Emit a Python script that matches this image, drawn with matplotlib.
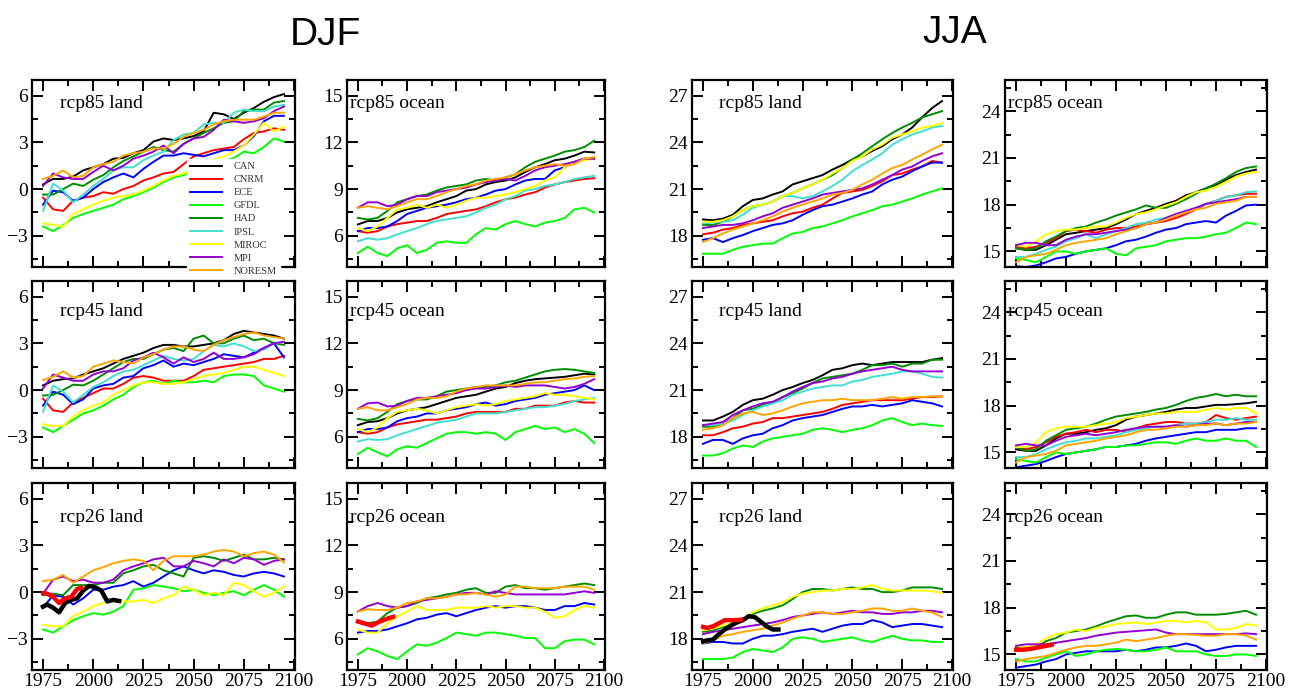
import matplotlib
matplotlib.use("Agg")
import matplotlib.pyplot as plt
from matplotlib.ticker import MultipleLocator

# 5-yearly sampling of the running means
years = list(range(1975, 2100, 5))

models = ["CAN", "CNRM", "ECE", "GFDL", "HAD", "IPSL", "MIROC", "MPI", "NORESM"]
colors = {"CAN": "#000000", "CNRM": "#ff0000", "ECE": "#0000ff", "GFDL": "#00ff00",
          "HAD": "#008b00", "IPSL": "#40e0d0", "MIROC": "#ffff00", "MPI": "#9400d3",
          "NORESM": "#ffa500"}

# ---------------- DJF land ----------------
djf_land_rcp85 = {
    "CAN":    [0.3, 0.65, 0.65, 0.8, 1.2, 1.4, 1.6, 1.95, 2.0, 2.3, 2.5, 3.05, 3.25, 3.15, 3.25, 3.4, 3.7, 4.9, 4.8, 4.5, 4.9, 5.2, 5.6, 5.9, 6.1],
    "CNRM":   [-0.55, -1.3, -1.4, -0.75, -0.55, -0.45, -0.2, -0.3, 0.0, 0.2, 0.55, 0.75, 1.0, 1.1, 1.6, 2.1, 2.3, 2.5, 2.6, 2.7, 3.2, 3.6, 3.7, 3.9, 3.8],
    "ECE":    [-1.0, -0.1, -0.2, -0.75, -0.55, 0.0, 0.45, 0.75, 1.0, 0.75, 1.3, 1.75, 2.15, 2.15, 2.3, 2.2, 2.1, 2.3, 2.5, 2.5, 2.8, 3.4, 4.35, 4.7, 4.7],
    "GFDL":   [-2.4, -2.7, -2.3, -1.85, -1.6, -1.4, -1.2, -1.0, -0.65, -0.45, -0.2, 0.1, 0.45, 0.75, 0.9, 1.2, 1.4, 1.6, 1.8, 2.0, 2.4, 2.3, 2.7, 3.25, 3.05],
    "HAD":    [-0.35, -0.35, 0.0, 0.35, 0.2, 0.6, 0.9, 1.4, 1.8, 2.1, 2.4, 2.7, 2.5, 2.4, 2.9, 3.25, 3.6, 3.9, 4.25, 4.35, 5.0, 5.1, 5.1, 5.55, 5.65],
    "IPSL":   [-1.4, 0.35, -0.1, -0.85, -0.35, 0.2, 0.65, 1.2, 1.4, 1.4, 1.85, 2.15, 2.4, 3.15, 3.5, 3.6, 4.15, 4.25, 4.25, 4.9, 5.1, 5.0, 5.0, 5.3, 5.4],
    "MIROC":  [-2.2, -2.3, -2.4, -1.6, -1.3, -1.0, -0.75, -0.55, -0.45, -0.35, -0.1, 0.2, 0.55, 0.85, 1.0, 1.3, 1.6, 1.9, 2.1, 2.4, 2.8, 3.5, 4.25, 3.7, 4.0],
    "MPI":    [0.2, 1.0, 0.75, 0.65, 0.65, 1.1, 1.5, 1.2, 1.5, 1.95, 2.15, 2.4, 2.8, 2.3, 2.9, 3.25, 3.35, 3.8, 4.45, 4.35, 4.25, 4.35, 4.55, 5.0, 5.3],
    "NORESM": [0.65, 0.85, 1.2, 0.75, 0.85, 1.4, 1.6, 1.75, 2.15, 2.3, 2.4, 2.6, 2.6, 2.9, 3.35, 3.6, 3.8, 4.15, 4.35, 4.45, 4.45, 4.45, 4.65, 4.9, 4.9],
}
djf_land_rcp45 = {
    "CAN":    [0.3, 0.6, 0.7, 0.75, 1.0, 1.2, 1.4, 1.7, 2.0, 2.2, 2.4, 2.7, 2.9, 2.9, 2.8, 2.8, 2.9, 3.0, 3.2, 3.6, 3.8, 3.7, 3.6, 3.5, 3.3],
    "CNRM":   [-0.55, -1.3, -1.4, -0.8, -0.5, -0.2, 0.1, 0.1, 0.4, 0.8, 0.9, 0.8, 0.6, 0.6, 0.6, 0.9, 1.3, 1.4, 1.5, 1.6, 1.7, 1.8, 2.0, 2.0, 2.2],
    "ECE":    [-1.0, -0.1, -0.3, -0.9, -0.6, 0.1, 0.3, 0.4, 0.8, 0.9, 1.4, 1.6, 1.9, 1.5, 1.7, 1.6, 1.8, 2.0, 2.3, 2.2, 2.1, 2.4, 2.7, 3.0, 2.1],
    "GFDL":   [-2.4, -2.7, -2.3, -1.9, -1.5, -1.3, -1.0, -0.6, -0.3, 0.2, 0.5, 0.6, 0.4, 0.6, 0.5, 0.5, 0.6, 0.5, 0.9, 1.0, 1.0, 0.9, 0.3, 0.1, -0.1],
    "HAD":    [-0.35, -0.3, 0.0, 0.35, 0.3, 0.6, 1.0, 1.4, 1.8, 2.0, 2.0, 2.3, 2.6, 2.7, 2.5, 3.3, 3.5, 3.0, 3.0, 3.3, 3.5, 3.2, 3.3, 3.0, 2.9],
    "IPSL":   [-1.4, 0.3, -0.1, -0.8, -0.3, 0.2, 0.5, 0.9, 1.2, 1.3, 1.6, 1.9, 2.2, 2.0, 1.9, 2.0, 2.5, 2.9, 2.8, 3.0, 2.8, 2.5, 2.6, 3.0, 3.1],
    "MIROC":  [-2.2, -2.3, -2.3, -1.7, -1.3, -1.0, -0.8, -0.3, 0.0, 0.3, 0.5, 0.5, 0.4, 0.4, 0.5, 0.7, 0.9, 1.0, 1.1, 1.3, 1.5, 1.5, 1.3, 1.1, 0.9],
    "MPI":    [0.1, 1.0, 0.8, 0.6, 0.6, 1.0, 1.2, 1.2, 1.4, 1.9, 2.1, 2.4, 2.1, 1.7, 2.1, 1.8, 2.0, 2.4, 2.0, 2.0, 2.1, 2.3, 2.7, 3.0, 3.1],
    "NORESM": [0.65, 0.85, 1.2, 0.8, 0.9, 1.5, 1.7, 1.9, 1.8, 1.7, 2.1, 2.3, 2.6, 2.8, 2.8, 2.6, 2.5, 2.9, 3.2, 3.4, 3.6, 3.7, 3.5, 3.4, 3.3],
}
djf_land_rcp26 = {
    "ECE":    [-1.0, -0.2, -0.3, -0.8, -0.4, 0.15, 0.15, 0.35, 0.45, 0.7, 0.35, 0.6, 1.0, 1.4, 1.65, 1.4, 1.2, 1.4, 1.3, 1.1, 1.0, 1.2, 1.3, 1.2, 1.0],
    "GFDL":   [-2.4, -2.6, -2.2, -1.8, -1.55, -1.35, -1.45, -1.25, -0.9, 0.15, 0.25, 0.45, 0.35, 0.25, 0.05, 0.15, -0.05, -0.2, -0.05, 0.05, -0.2, 0.15, 0.45, 0.15, -0.3],
    "HAD":    [-0.2, -0.1, -0.2, 0.45, 0.45, 0.45, 0.6, 0.6, 1.2, 1.4, 1.65, 1.75, 1.4, 1.2, 1.0, 2.2, 2.3, 2.2, 2.0, 2.2, 2.4, 2.1, 2.1, 2.2, 2.1],
    "MIROC":  [-2.1, -2.2, -2.2, -1.55, -1.25, -0.9, -0.7, -0.6, -0.6, -0.6, -0.5, -0.7, -0.4, -0.2, 0.35, 0.15, -0.2, -0.05, -0.2, 0.6, 0.45, 0.05, -0.3, -0.05, 0.35],
    "MPI":    [-0.1, 0.8, 1.0, 0.7, 0.8, 0.6, 0.6, 0.8, 1.4, 1.65, 1.85, 2.1, 2.2, 1.65, 1.65, 2.0, 1.85, 1.65, 2.1, 1.85, 2.2, 2.1, 1.75, 2.0, 2.1],
    "NORESM": [0.7, 0.8, 1.1, 0.6, 1.0, 1.4, 1.6, 1.85, 2.0, 2.1, 2.0, 1.4, 2.0, 2.3, 2.3, 2.3, 2.4, 2.6, 2.7, 2.6, 2.3, 2.5, 2.6, 2.4, 1.9],
}
obs_djf_land_years = [1974, 1977, 1980, 1983, 1986, 1989, 1992, 1995, 1998, 2001, 2004, 2007, 2010, 2014]
obs_djf_land_black = [-1.0, -0.8, -1.0, -1.3, -0.7, -0.5, -0.4, 0.1, 0.4, 0.3, 0.1, -0.6, -0.5, -0.6]
obs_djf_land_red_years = [1974, 1977, 1980, 1983, 1986, 1989, 1992, 1995]
obs_djf_land_red = [-0.05, -0.1, -0.3, -0.7, -0.4, -0.3, 0.2, 0.3]

# ---------------- DJF ocean ----------------
djf_ocean_rcp85 = {
    "CAN":    [6.73, 6.95, 6.95, 7.15, 7.5, 7.7, 7.8, 7.9, 8.15, 8.35, 8.55, 8.9, 9.0, 9.3, 9.45, 9.55, 9.75, 10.1, 10.4, 10.6, 10.85, 10.95, 11.15, 11.4, 11.35],
    "CNRM":   [6.3, 6.2, 6.3, 6.6, 6.75, 6.85, 6.95, 6.95, 7.15, 7.4, 7.5, 7.6, 7.7, 7.9, 8.15, 8.35, 8.45, 8.65, 8.8, 9.1, 9.3, 9.45, 9.55, 9.65, 9.7],
    "ECE":    [6.3, 6.5, 6.5, 6.6, 6.95, 7.4, 7.6, 7.8, 7.9, 8.0, 8.15, 8.35, 8.45, 8.65, 8.9, 9.0, 9.3, 9.55, 9.65, 9.65, 10.2, 10.4, 10.75, 10.95, 10.95],
    "GFDL":   [4.9, 5.3, 4.9, 4.7, 5.2, 5.4, 4.9, 5.1, 5.55, 5.65, 5.55, 5.55, 6.1, 6.5, 6.4, 6.75, 6.95, 6.75, 6.6, 6.85, 6.95, 7.15, 7.7, 7.8, 7.5],
    "HAD":    [7.15, 7.05, 7.15, 7.6, 8.15, 8.35, 8.55, 8.65, 8.9, 9.1, 9.2, 9.3, 9.55, 9.65, 9.55, 9.75, 9.95, 10.4, 10.75, 10.95, 11.15, 11.4, 11.5, 11.7, 12.1],
    "IPSL":   [5.65, 5.85, 5.75, 5.85, 6.1, 6.3, 6.5, 6.75, 6.95, 7.05, 7.15, 7.25, 7.5, 7.8, 8.0, 8.35, 8.55, 8.9, 9.0, 9.2, 9.3, 9.45, 9.65, 9.75, 9.85],
    "MIROC":  [6.5, 6.3, 6.6, 7.15, 7.7, 7.8, 8.0, 7.8, 8.0, 7.8, 8.0, 8.25, 8.45, 8.45, 8.55, 8.65, 8.8, 9.0, 9.2, 9.55, 9.75, 10.4, 10.75, 10.85, 10.95],
    "MPI":    [7.8, 8.15, 8.15, 7.9, 8.0, 8.35, 8.55, 8.55, 8.8, 8.9, 9.0, 9.1, 9.3, 9.45, 9.55, 9.65, 9.55, 9.85, 10.2, 10.4, 10.5, 10.6, 10.75, 10.95, 10.95],
    "NORESM": [7.8, 7.9, 7.8, 7.7, 7.9, 8.15, 8.35, 8.35, 8.55, 8.8, 9.0, 9.2, 9.3, 9.55, 9.65, 9.75, 9.95, 10.2, 10.4, 10.5, 10.6, 10.5, 10.6, 10.95, 11.05],
}
djf_ocean_rcp45 = {
    "CAN":    [6.75, 6.95, 7.0, 7.2, 7.5, 7.7, 7.8, 7.9, 8.1, 8.3, 8.5, 8.6, 8.7, 8.9, 9.1, 9.2, 9.45, 9.6, 9.7, 9.75, 9.8, 9.85, 9.95, 10.05, 10.0],
    "CNRM":   [6.3, 6.2, 6.3, 6.6, 6.8, 6.9, 7.0, 7.1, 7.1, 7.2, 7.3, 7.5, 7.6, 7.6, 7.6, 7.6, 7.8, 7.8, 8.0, 8.0, 8.0, 8.2, 8.3, 8.2, 8.2],
    "ECE":    [6.3, 6.5, 6.5, 6.6, 7.0, 7.2, 7.3, 7.5, 7.5, 7.7, 7.8, 7.9, 8.1, 8.2, 8.0, 8.1, 8.3, 8.4, 8.5, 8.7, 8.8, 8.9, 9.0, 9.3, 9.0],
    "GFDL":   [4.9, 5.3, 5.0, 4.75, 5.2, 5.4, 5.3, 5.6, 5.9, 6.2, 6.3, 6.3, 6.2, 6.3, 6.2, 5.8, 6.3, 6.5, 6.7, 6.5, 6.6, 6.3, 6.5, 6.2, 5.6],
    "HAD":    [7.15, 7.05, 7.2, 7.6, 8.1, 8.3, 8.4, 8.4, 8.6, 8.9, 9.0, 9.1, 9.2, 9.2, 9.3, 9.5, 9.6, 9.8, 10.0, 10.2, 10.3, 10.35, 10.3, 10.2, 10.1],
    "IPSL":   [5.7, 5.85, 5.8, 5.85, 6.1, 6.3, 6.5, 6.7, 6.9, 7.0, 7.1, 7.3, 7.5, 7.5, 7.5, 7.6, 7.7, 7.8, 7.9, 7.9, 8.0, 8.1, 8.3, 8.4, 8.5],
    "MIROC":  [6.5, 6.3, 6.6, 7.2, 7.6, 7.7, 7.8, 7.7, 7.5, 7.7, 7.9, 8.0, 8.1, 8.0, 8.1, 8.3, 8.4, 8.5, 8.6, 8.8, 8.7, 8.7, 8.6, 8.5, 8.4],
    "MPI":    [7.8, 8.15, 8.2, 7.95, 8.0, 8.3, 8.5, 8.5, 8.6, 8.7, 8.8, 9.0, 9.1, 9.1, 9.2, 9.3, 9.2, 9.3, 9.3, 9.3, 9.2, 9.1, 9.2, 9.4, 9.7],
    "NORESM": [7.8, 7.9, 7.7, 7.7, 7.9, 8.1, 8.4, 8.5, 8.5, 8.6, 8.9, 9.1, 9.2, 9.3, 9.3, 9.3, 9.3, 9.4, 9.5, 9.5, 9.6, 9.7, 9.75, 9.85, 9.9],
}
djf_ocean_rcp26 = {
    "ECE":    [6.4, 6.5, 6.5, 6.6, 6.8, 7.0, 7.25, 7.35, 7.55, 7.65, 7.45, 7.65, 7.85, 8.0, 8.1, 8.0, 8.1, 8.1, 8.0, 7.85, 7.85, 8.1, 8.1, 8.3, 8.2],
    "GFDL":   [5.0, 5.4, 5.2, 4.9, 4.7, 5.2, 5.65, 5.55, 5.75, 6.05, 6.4, 6.3, 6.2, 6.4, 6.4, 6.3, 6.2, 6.05, 6.05, 5.4, 5.4, 5.85, 5.95, 5.95, 5.65],
    "HAD":    [7.1, 7.0, 7.1, 7.65, 8.0, 8.1, 8.3, 8.6, 8.7, 8.85, 8.95, 9.15, 9.25, 8.95, 8.95, 9.35, 9.45, 9.25, 9.25, 9.15, 9.25, 9.35, 9.45, 9.55, 9.45],
    "MIROC":  [6.6, 6.4, 6.4, 7.0, 7.45, 7.75, 8.1, 7.85, 7.85, 7.85, 8.0, 8.0, 8.0, 8.1, 8.0, 8.1, 8.1, 8.0, 8.0, 7.75, 7.35, 7.45, 7.85, 8.1, 8.0],
    "MPI":    [7.75, 8.1, 8.3, 8.1, 8.0, 8.1, 8.4, 8.5, 8.6, 8.7, 8.85, 8.95, 8.95, 8.85, 9.05, 8.95, 8.85, 8.85, 8.85, 8.85, 8.85, 8.85, 8.95, 9.05, 8.95],
    "NORESM": [7.75, 7.9, 7.85, 7.85, 8.0, 8.3, 8.4, 8.6, 8.6, 8.7, 8.85, 8.85, 8.95, 8.85, 8.7, 8.85, 9.35, 9.35, 9.25, 9.25, 9.25, 9.35, 9.35, 9.35, 9.15],
}
obs_djf_ocean_red_years = [1974, 1978, 1982, 1986, 1990, 1994]
obs_djf_ocean_red = [7.15, 7.0, 6.85, 7.1, 7.3, 7.45]

# ---------------- JJA land ----------------
jja_land_rcp85 = {
    "CAN":    [19.05, 19.0, 19.1, 19.35, 19.9, 20.3, 20.4, 20.65, 20.85, 21.3, 21.5, 21.7, 21.9, 22.25, 22.55, 22.9, 23.1, 23.45, 23.75, 24.2, 24.5, 24.95, 25.6, 26.2, 26.65],
    "CNRM":   [18.1, 18.2, 18.4, 18.5, 18.7, 18.8, 18.9, 19.0, 19.25, 19.45, 19.55, 19.8, 20.0, 20.4, 20.75, 20.85, 20.95, 21.2, 21.5, 21.9, 22.0, 22.25, 22.45, 22.8, 22.7],
    "ECE":    [17.75, 17.85, 17.6, 17.85, 18.05, 18.3, 18.5, 18.7, 18.8, 19.0, 19.35, 19.65, 19.9, 20.0, 20.2, 20.4, 20.65, 20.85, 21.3, 21.6, 21.8, 22.15, 22.45, 22.7, 22.7],
    "GFDL":   [16.85, 16.85, 16.85, 17.1, 17.3, 17.4, 17.5, 17.5, 17.85, 18.15, 18.25, 18.5, 18.6, 18.8, 19.0, 19.25, 19.45, 19.65, 19.9, 20.0, 20.2, 20.4, 20.65, 20.85, 21.05],
    "HAD":    [18.7, 18.7, 18.9, 19.25, 19.65, 19.9, 20.0, 20.2, 20.55, 20.75, 21.05, 21.3, 21.6, 21.9, 22.35, 22.9, 23.3, 23.75, 24.2, 24.6, 24.95, 25.25, 25.6, 25.8, 26.0],
    "IPSL":   [18.8, 18.85, 18.9, 19.0, 19.35, 19.8, 20.0, 20.2, 20.55, 20.55, 20.4, 20.55, 20.85, 21.2, 21.6, 22.15, 22.55, 22.9, 23.3, 23.85, 24.2, 24.5, 24.7, 24.95, 25.05],
    "MIROC":  [18.9, 18.9, 19.0, 19.25, 19.65, 19.9, 20.0, 20.2, 20.55, 20.75, 21.05, 21.3, 21.6, 22.0, 22.35, 22.8, 23.1, 23.55, 23.85, 24.3, 24.5, 24.7, 24.95, 25.05, 25.25],
    "MPI":    [18.5, 18.6, 18.7, 18.7, 18.8, 19.0, 19.25, 19.45, 19.8, 20.0, 20.2, 20.4, 20.65, 20.75, 20.85, 20.95, 21.05, 21.3, 21.6, 21.9, 22.25, 22.45, 22.8, 23.1, 23.3],
    "NORESM": [17.6, 17.85, 18.15, 18.4, 18.6, 18.8, 19.0, 19.25, 19.55, 19.8, 20.0, 20.2, 20.4, 20.65, 20.75, 20.95, 21.3, 21.6, 22.0, 22.35, 22.55, 22.9, 23.2, 23.55, 23.85],
}
jja_land_rcp45 = {
    "CAN":    [19.05, 19.05, 19.3, 19.6, 20.05, 20.35, 20.45, 20.7, 21.0, 21.2, 21.45, 21.65, 21.95, 22.3, 22.4, 22.6, 22.7, 22.6, 22.7, 22.8, 22.8, 22.8, 22.8, 22.95, 23.05],
    "CNRM":   [18.1, 18.1, 18.3, 18.55, 18.65, 18.85, 18.95, 19.2, 19.2, 19.3, 19.4, 19.5, 19.6, 19.8, 20.05, 20.15, 20.25, 20.35, 20.35, 20.35, 20.35, 20.45, 20.55, 20.55, 20.6],
    "ECE":    [17.55, 17.8, 17.8, 17.55, 17.9, 18.1, 18.2, 18.55, 18.75, 19.05, 19.2, 19.3, 19.4, 19.6, 19.8, 19.95, 19.95, 20.05, 19.95, 20.05, 20.15, 20.35, 20.25, 20.15, 19.95],
    "GFDL":   [16.8, 16.8, 16.95, 17.25, 17.45, 17.35, 17.7, 17.9, 18.0, 18.1, 18.2, 18.45, 18.55, 18.45, 18.3, 18.45, 18.55, 18.75, 19.05, 19.2, 18.95, 18.75, 18.85, 18.75, 18.7],
    "HAD":    [18.65, 18.65, 18.85, 19.2, 19.7, 19.8, 20.05, 20.15, 20.55, 20.8, 21.1, 21.45, 21.75, 21.85, 21.95, 22.05, 22.3, 22.6, 22.6, 22.7, 22.5, 22.7, 22.7, 22.95, 22.95],
    "IPSL":   [18.75, 18.75, 18.85, 19.05, 19.4, 19.7, 19.95, 20.15, 20.35, 20.7, 20.9, 21.1, 21.2, 21.3, 21.3, 21.55, 21.65, 21.85, 21.95, 22.05, 22.2, 22.2, 22.05, 21.85, 21.8],
    "MPI":    [18.75, 18.85, 18.95, 19.4, 19.7, 19.95, 20.15, 20.25, 20.55, 20.9, 21.2, 21.45, 21.55, 21.75, 21.85, 22.05, 22.2, 22.3, 22.4, 22.5, 22.3, 22.2, 22.2, 22.2, 22.2],
    "NORESM": [18.45, 18.55, 18.75, 19.2, 19.5, 19.6, 19.4, 19.5, 19.7, 19.95, 20.15, 20.25, 20.35, 20.35, 20.45, 20.35, 20.35, 20.35, 20.45, 20.55, 20.45, 20.55, 20.55, 20.6, 20.6],
}
jja_land_rcp26 = {
    "ECE":    [17.7, 17.8, 17.8, 17.7, 17.7, 18.0, 18.2, 18.2, 18.3, 18.45, 18.55, 18.65, 18.45, 18.65, 18.85, 18.95, 18.95, 19.2, 19.05, 18.75, 18.85, 18.95, 18.95, 18.85, 18.75],
    "GFDL":   [16.7, 16.7, 16.7, 16.8, 17.15, 17.35, 17.25, 17.15, 17.45, 18.0, 18.1, 18.0, 17.8, 17.9, 18.0, 18.1, 17.9, 17.8, 18.0, 18.2, 18.0, 17.9, 17.9, 17.8, 17.8],
    "HAD":    [18.45, 18.55, 18.75, 18.95, 19.2, 19.6, 19.8, 19.95, 20.15, 20.55, 21.0, 21.2, 21.2, 21.1, 21.2, 21.3, 21.2, 21.2, 21.0, 21.0, 21.1, 21.3, 21.3, 21.3, 21.2],
    "MIROC":  [18.55, 18.65, 18.85, 19.05, 19.3, 19.7, 19.95, 20.15, 20.35, 20.7, 20.9, 21.0, 21.1, 21.1, 21.2, 21.2, 21.3, 21.45, 21.2, 21.1, 21.1, 21.1, 21.1, 21.05, 20.95],
    "MPI":    [18.3, 18.45, 18.55, 18.65, 18.75, 18.85, 18.95, 19.05, 19.2, 19.4, 19.5, 19.6, 19.7, 19.6, 19.7, 19.8, 19.7, 19.7, 19.6, 19.6, 19.7, 19.7, 19.8, 19.8, 19.7],
    "NORESM": [17.7, 17.9, 18.2, 18.3, 18.45, 18.55, 18.65, 18.85, 19.05, 19.3, 19.5, 19.7, 19.7, 19.6, 19.6, 19.7, 19.8, 19.95, 19.95, 19.8, 19.8, 19.95, 19.8, 19.7, 19.4],
}
obs_jja_land_years = [1974, 1977, 1980, 1983, 1986, 1989, 1992, 1995, 1998, 2001, 2004, 2007, 2010, 2014]
obs_jja_land_black = [17.8, 17.9, 17.95, 18.3, 18.6, 18.85, 19.05, 19.2, 19.45, 19.4, 19.1, 18.8, 18.6, 18.6]
obs_jja_land_red_years = [1974, 1977, 1980, 1983, 1986, 1989, 1992, 1995]
obs_jja_land_red = [18.8, 18.7, 18.8, 19.0, 19.2, 19.2, 19.2, 19.25]

# ---------------- JJA ocean ----------------
jja_ocean_rcp85 = {
    "CAN":    [15.2, 15.1, 15.1, 15.4, 15.75, 16.1, 16.2, 16.3, 16.4, 16.5, 16.75, 17.05, 17.4, 17.6, 17.8, 18.05, 18.25, 18.6, 18.8, 19.05, 19.25, 19.6, 19.9, 20.1, 20.25],
    "CNRM":   [15.3, 15.2, 15.3, 15.55, 15.85, 16.3, 16.4, 16.3, 16.2, 16.4, 16.5, 16.5, 16.6, 16.75, 16.85, 16.95, 17.15, 17.4, 17.7, 18.05, 18.25, 18.5, 18.6, 18.7, 18.7],
    "ECE":    [14.05, 14.0, 14.1, 14.3, 14.55, 14.65, 14.85, 15.0, 15.1, 15.2, 15.4, 15.65, 15.75, 15.95, 16.2, 16.4, 16.5, 16.75, 16.85, 16.95, 16.85, 17.3, 17.6, 17.95, 18.0],
    "GFDL":   [14.55, 14.45, 14.3, 14.65, 15.0, 15.0, 14.85, 15.0, 15.1, 15.2, 14.85, 14.75, 15.2, 15.3, 15.4, 15.65, 15.75, 15.85, 15.85, 15.95, 16.1, 16.2, 16.5, 16.85, 16.75],
    "HAD":    [15.2, 15.1, 15.2, 15.65, 15.95, 16.3, 16.5, 16.6, 16.85, 17.05, 17.3, 17.5, 17.7, 17.95, 17.8, 17.8, 18.05, 18.35, 18.7, 19.05, 19.35, 19.7, 20.1, 20.35, 20.45],
    "IPSL":   [14.65, 14.65, 14.85, 15.1, 15.3, 15.65, 15.85, 16.1, 15.85, 16.1, 16.3, 16.5, 16.75, 16.85, 17.05, 17.15, 17.4, 17.6, 17.8, 18.05, 18.25, 18.5, 18.6, 18.8, 18.85],
    "MIROC":  [15.4, 15.3, 15.65, 16.1, 16.3, 16.4, 16.4, 16.5, 16.6, 16.6, 16.85, 17.15, 17.4, 17.5, 17.7, 17.95, 18.15, 18.5, 18.8, 18.9, 19.15, 19.45, 19.8, 20.0, 20.1],
    "MPI":    [15.4, 15.55, 15.55, 15.4, 15.4, 15.75, 15.95, 16.1, 16.1, 16.2, 16.3, 16.4, 16.5, 16.75, 16.85, 17.15, 17.4, 17.6, 17.8, 18.05, 18.15, 18.25, 18.35, 18.5, 18.5],
    "NORESM": [14.3, 14.65, 14.75, 14.85, 15.1, 15.4, 15.55, 15.65, 15.75, 15.85, 16.1, 16.3, 16.5, 16.75, 16.85, 17.05, 17.3, 17.5, 17.7, 17.8, 18.05, 18.15, 18.25, 18.5, 18.5],
}
jja_ocean_rcp45 = {
    "CAN":    [15.2, 15.1, 15.1, 15.45, 15.9, 16.2, 16.2, 16.3, 16.45, 16.55, 16.75, 17.1, 17.3, 17.4, 17.5, 17.6, 17.75, 17.85, 17.85, 17.95, 18.05, 18.05, 18.1, 18.15, 18.25],
    "CNRM":   [15.35, 15.2, 15.35, 15.65, 16.0, 16.2, 16.3, 16.45, 16.3, 16.45, 16.45, 16.3, 16.55, 16.75, 16.85, 16.95, 16.95, 16.85, 16.85, 16.95, 17.4, 17.2, 17.1, 17.2, 17.3],
    "ECE":    [14.05, 14.15, 14.25, 14.45, 14.7, 14.9, 15.0, 15.1, 15.2, 15.35, 15.35, 15.45, 15.55, 15.75, 15.9, 16.0, 16.1, 16.2, 16.3, 16.3, 16.45, 16.45, 16.45, 16.55, 16.55],
    "GFDL":   [14.55, 14.45, 14.35, 14.7, 15.0, 14.9, 15.0, 15.1, 15.2, 15.35, 15.35, 15.45, 15.45, 15.55, 15.65, 15.65, 15.55, 15.75, 15.9, 15.75, 15.75, 15.9, 15.75, 15.75, 15.35],
    "HAD":    [15.35, 15.1, 15.2, 15.75, 16.1, 16.45, 16.55, 16.65, 16.85, 17.1, 17.3, 17.4, 17.5, 17.6, 17.75, 17.85, 18.05, 18.3, 18.5, 18.6, 18.75, 18.6, 18.7, 18.6, 18.6],
    "IPSL":   [14.7, 14.7, 14.9, 15.2, 15.45, 15.65, 15.75, 15.9, 15.9, 16.0, 16.1, 16.3, 16.45, 16.55, 16.65, 16.65, 16.75, 16.85, 16.85, 16.95, 17.1, 17.1, 17.2, 17.1, 17.1],
    "MIROC":  [15.35, 15.35, 15.65, 16.3, 16.55, 16.65, 16.65, 16.65, 16.75, 16.85, 16.95, 17.2, 17.3, 17.4, 17.5, 17.5, 17.6, 17.6, 17.6, 17.75, 17.85, 17.75, 17.85, 17.85, 17.5],
    "MPI":    [15.45, 15.55, 15.45, 15.45, 15.75, 16.0, 16.1, 16.2, 16.1, 16.2, 16.3, 16.45, 16.55, 16.65, 16.65, 16.65, 16.75, 16.65, 16.75, 16.85, 16.85, 16.75, 16.85, 16.95, 16.95],
    "NORESM": [14.35, 14.7, 14.8, 14.9, 15.1, 15.45, 15.55, 15.65, 15.75, 15.9, 16.0, 16.1, 16.3, 16.45, 16.45, 16.55, 16.65, 16.65, 16.75, 16.75, 16.85, 16.75, 16.85, 16.85, 16.95],
}
jja_ocean_rcp26 = {
    "ECE":    [14.15, 14.25, 14.35, 14.55, 14.7, 15.0, 15.1, 15.2, 15.2, 15.2, 15.2, 15.3, 15.2, 15.3, 15.45, 15.45, 15.55, 15.7, 15.55, 15.2, 15.3, 15.45, 15.55, 15.55, 15.55],
    "GFDL":   [14.7, 14.55, 14.55, 14.8, 15.0, 15.2, 14.9, 15.0, 15.2, 15.3, 15.35, 15.3, 15.2, 15.2, 15.3, 15.45, 15.2, 15.2, 15.2, 15.0, 14.9, 14.9, 15.0, 15.0, 14.9],
    "HAD":    [15.45, 15.3, 15.45, 15.85, 16.05, 16.4, 16.5, 16.6, 16.8, 17.05, 17.25, 17.45, 17.5, 17.35, 17.35, 17.55, 17.7, 17.7, 17.55, 17.55, 17.55, 17.6, 17.7, 17.8, 17.55],
    "MIROC":  [15.55, 15.45, 15.65, 16.05, 16.3, 16.4, 16.6, 16.5, 16.7, 16.8, 16.95, 17.0, 17.05, 16.95, 17.05, 17.15, 17.15, 17.05, 17.15, 17.05, 16.6, 16.6, 16.7, 16.95, 16.85],
    "MPI":    [15.55, 15.65, 15.65, 15.65, 15.75, 15.85, 15.95, 16.05, 16.2, 16.3, 16.4, 16.45, 16.5, 16.55, 16.6, 16.4, 16.3, 16.3, 16.3, 16.3, 16.3, 16.3, 16.3, 16.35, 16.3],
    "NORESM": [14.55, 14.7, 14.8, 14.9, 15.1, 15.3, 15.45, 15.55, 15.55, 15.65, 15.75, 15.95, 15.85, 15.95, 16.05, 16.2, 16.3, 16.3, 16.25, 16.2, 16.2, 16.3, 16.3, 16.2, 15.95],
}
obs_jja_ocean_red_years = [1974, 1978, 1982, 1986, 1990, 1994]
obs_jja_ocean_red = [15.3, 15.3, 15.35, 15.45, 15.55, 15.65]

season_titles = ["DJF", "JJA"]
panel_labels = ["rcp85", "rcp45", "rcp26"]
x_ticks = [1975, 2000, 2025, 2050, 2075, 2100]

# columns: (data per row, ylim, major y ticks, land/ocean)
columns = [
    ([djf_land_rcp85, djf_land_rcp45, djf_land_rcp26], (-5, 7), [-3, 0, 3, 6], "land"),
    ([djf_ocean_rcp85, djf_ocean_rcp45, djf_ocean_rcp26], (4, 16), [6, 9, 12, 15], "ocean"),
    ([jja_land_rcp85, jja_land_rcp45, jja_land_rcp26], (16, 28), [18, 21, 24, 27], "land"),
    ([jja_ocean_rcp85, jja_ocean_rcp45, jja_ocean_rcp26], (14, 26), [15, 18, 21, 24], "ocean"),
]
obs = {
    0: [(obs_djf_land_years, obs_djf_land_black, "black"), (obs_djf_land_red_years, obs_djf_land_red, "red")],
    1: [(obs_djf_ocean_red_years, obs_djf_ocean_red, "red")],
    2: [(obs_jja_land_years, obs_jja_land_black, "black"), (obs_jja_land_red_years, obs_jja_land_red, "red")],
    3: [(obs_jja_ocean_red_years, obs_jja_ocean_red, "red")],
}

W, H = 1289, 695
fig = plt.figure(figsize=(W / 100, H / 100), dpi=100)
serif = "Liberation Serif"

col_left = [32, 347, 692, 1005]
col_width = [263, 258, 261, 262]
row_top = [80, 281, 483]
row_h = 187
label_y = [0.875, 0.835, 0.815]

legend_ax = None
for c, (rows, ylim, yt, kind) in enumerate(columns):
    for r in range(3):
        ax = fig.add_axes([col_left[c] / W, 1 - (row_top[r] + row_h) / H,
                           col_width[c] / W, row_h / H])
        data = rows[r]
        for m in models:
            if m in data:
                ax.plot(years, data[m], color=colors[m], lw=1.4, label=m)
        if r == 2:
            for yrs, vals, col in obs[c]:
                ax.plot(yrs, vals, color=col, lw=3.2, solid_capstyle="butt")
        ax.set_xlim(1969.5, 2100.5)
        ax.set_ylim(*ylim)
        ax.set_xticks(x_ticks)
        ax.xaxis.set_minor_locator(MultipleLocator(12.5))
        ax.set_yticks(yt)
        ax.yaxis.set_minor_locator(MultipleLocator(1.5))
        ax.tick_params(which="both", direction="in", top=True, right=True,
                       width=1.4, labelsize=14, pad=3)
        ax.tick_params(which="major", length=8)
        ax.tick_params(which="minor", length=4.5)
        ax.tick_params(axis="x", labelbottom=(r == 2), pad=2)
        for lab in ax.get_xticklabels() + ax.get_yticklabels():
            lab.set_fontfamily(serif)
        for sp in ax.spines.values():
            sp.set_linewidth(1.6)
        x_lab = 0.105 if kind == "land" else 0.012
        ax.text(x_lab, label_y[r], f"{panel_labels[r]} {kind}", transform=ax.transAxes,
                fontsize=14, family=serif, ha="left", va="center")
        if c == 0 and r == 0:
            legend_ax = ax

leg = legend_ax.legend(loc="upper left", bbox_to_anchor=(0.59, 0.578),
                       prop={"family": serif, "size": 7.5}, frameon=True, facecolor="white",
                       edgecolor="white", framealpha=1.0, handlelength=3.0,
                       handletextpad=1.2, labelspacing=0.36, borderpad=0.3,
                       borderaxespad=0, fancybox=False)
leg.set_zorder(10)
for t in leg.get_texts():
    t.set_color("#333333")

fig.text(325 / W, 1 - 35 / H, season_titles[0], fontsize=28, family="Liberation Sans",
         ha="center", va="center")
fig.text(955 / W, 1 - 33 / H, season_titles[1], fontsize=28, family="Liberation Sans",
         ha="center", va="center")

fig.savefig("out.png", dpi=100)
